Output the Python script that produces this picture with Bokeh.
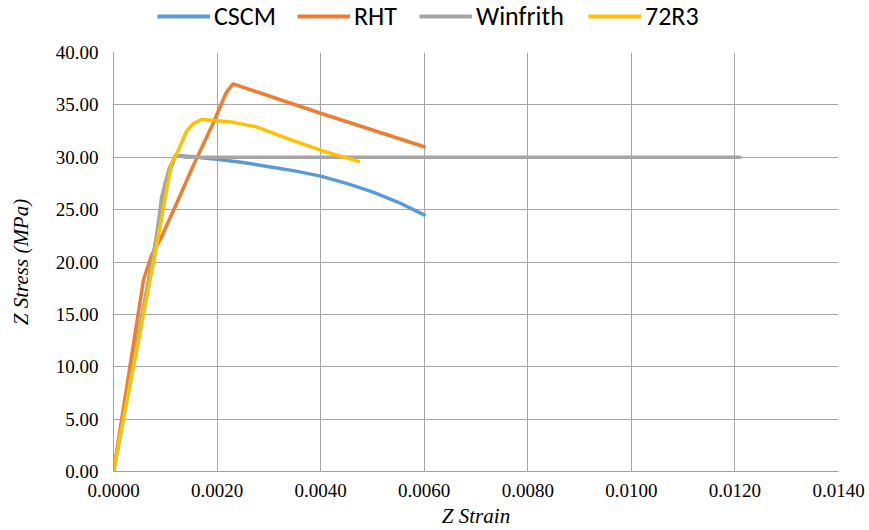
from bokeh.plotting import figure
from bokeh.layouts import column
from bokeh.models import Legend, LegendItem, FixedTicker, PrintfTickFormatter, Range1d
from bokeh.embed import file_html
from bokeh.resources import INLINE

# ---- data ----
cscm_strain = [0.0, 0.0008, 0.0010, 0.0012, 0.0016, 0.0020, 0.0025, 0.0030, 0.0035, 0.0040, 0.0045, 0.0050, 0.0055, 0.0060]
cscm_stress = [0.0, 21.5, 27.5, 30.2, 30.0, 29.8, 29.5, 29.1, 28.7, 28.2, 27.5, 26.7, 25.7, 24.5]

rht_strain = [0.0, 0.00058, 0.00074, 0.0009, 0.00122, 0.00154, 0.00192, 0.00218, 0.00231, 0.0040, 0.0060]
rht_stress = [0.0, 18.3, 20.7, 22.1, 25.6, 29.2, 33.2, 36.2, 37.0, 34.2, 31.0]

winfrith_strain = [0.0, 0.00083, 0.00093, 0.00108, 0.0012, 0.0014, 0.0121]
winfrith_stress = [0.0, 22.4, 26.2, 29.0, 30.2, 30.0, 30.0]

r72_strain = [0.0, 0.00083, 0.00112, 0.00122, 0.00141, 0.00154, 0.0017, 0.00224, 0.00276, 0.0034, 0.00404, 0.00473]
r72_stress = [0.0, 21.5, 29.4, 30.3, 32.5, 33.2, 33.6, 33.4, 32.9, 31.7, 30.6, 29.6]

series_names = ["CSCM", "RHT", "Winfrith", "72R3"]
x_ticks = [0.0, 0.002, 0.004, 0.006, 0.008, 0.010, 0.012, 0.014]
y_ticks = [0, 5, 10, 15, 20, 25, 30, 35, 40]

colors = ["#5B9BD5", "#ED7D31", "#A5A5A5", "#FFC000"]
legend_x = [44, 184, 306, 475]   # legend entry offsets (px from plot-area left)

data = [(cscm_strain, cscm_stress), (rht_strain, rht_stress),
        (winfrith_strain, winfrith_stress), (r72_strain, r72_stress)]

# ---- main chart ----
p = figure(width=869, height=498, output_backend="svg", toolbar_location=None,
           x_range=Range1d(0, 0.014), y_range=Range1d(0, 40),
           min_border_left=113, min_border_right=31, min_border_top=20, min_border_bottom=58)

p.outline_line_color = None
p.background_fill_color = "white"

for (xs, ys), c in zip(data, colors):
    p.line(xs, ys, line_color=c, line_width=3.5, line_join="round", line_cap="round")

p.xaxis.ticker = FixedTicker(ticks=x_ticks)
p.yaxis.ticker = FixedTicker(ticks=y_ticks)
p.xaxis.formatter = PrintfTickFormatter(format="%.4f")
p.yaxis.formatter = PrintfTickFormatter(format="%.2f")
for ax in (p.xaxis, p.yaxis):
    ax.major_tick_in = 0
    ax.major_tick_out = 0
    ax.minor_tick_in = 0
    ax.minor_tick_out = 0
    ax.axis_line_color = "#a0a0a0"
    ax.axis_line_width = 1
    ax.major_label_text_font = "Liberation Serif"
    ax.major_label_text_font_size = "19px"
    ax.major_label_text_color = "black"
    ax.axis_label_text_font = "Liberation Serif"
    ax.axis_label_text_font_style = "italic"
    ax.axis_label_text_font_size = "21px"
    ax.axis_label_text_color = "black"

p.xaxis.axis_label = "Z Strain"
p.yaxis.axis_label = "Z Stress (MPa)"
p.xaxis.major_label_standoff = 12
p.xaxis.axis_label_standoff = 4
p.yaxis.major_label_standoff = 15
p.yaxis.axis_label_standoff = 20

p.xgrid.ticker = FixedTicker(ticks=x_ticks)
p.ygrid.ticker = FixedTicker(ticks=y_ticks)
p.grid.grid_line_color = "#a6a6a6"
p.grid.grid_line_width = 1

# ---- legend strip on top ----
lg = figure(width=869, height=32, output_backend="svg", toolbar_location=None,
            x_range=Range1d(1, 2), y_range=Range1d(1000, 1001),
            x_axis_type=None, y_axis_type=None,
            min_border_left=0, min_border_right=0, min_border_top=0, min_border_bottom=0)
lg.outline_line_color = None
lg.xgrid.visible = False
lg.ygrid.visible = False

for (xs, ys), c, name, lx in zip(data, colors, series_names, legend_x):
    r = lg.line(xs, ys, line_color=c, line_width=4)
    leg = Legend(items=[LegendItem(label=name, renderers=[r])], orientation="horizontal",
                 location=(lx, 0),
                 label_text_font="Carlito, Lato", label_text_font_size="26px",
                 label_text_color="black",
                 glyph_width=53, glyph_height=28, label_height=28, label_standoff=4,
                 padding=0, margin=0, border_line_color=None, background_fill_alpha=0)
    lg.add_layout(leg)

layout = column(lg, p, spacing=0)
open("out.html", "w").write(file_html(layout, INLINE))
